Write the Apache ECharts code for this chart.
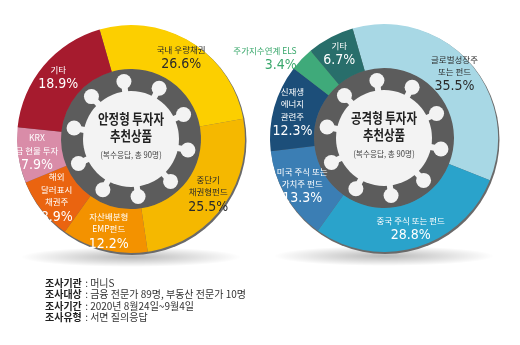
<!DOCTYPE html>
<html><head><meta charset="utf-8">
<script src="https://cdn.jsdelivr.net/npm/echarts@6/dist/echarts.min.js"></script>
<style>html,body{margin:0;padding:0;background:#fff}#c{width:520px;height:345px}</style>
</head><body><div id="c"></div>
<script>
// ---- data ----
const leftNames = ['국내 우량채권', '중단기\n채권형펀드', '자산배분형\nEMP펀드', '해외\n달러표시\n채권주', 'KRX\n금 현물 투자', '기타'];
const leftValues = [26.6, 25.5, 12.2, 8.9, 7.9, 18.9];
const rightNames = ['글로벌성장주\n또는 펀드', '중국 주식 또는 펀드', '미국 주식 또는\n가치주 펀드', '신재생\n에너지\n관련주', '주가지수연계 ELS', '기타'];
const rightValues = [35.5, 28.8, 13.3, 12.3, 3.4, 6.7];
const leftTitle = ['안정형 투자자', '추천상품'];
const rightTitle = ['공격형 투자자', '추천상품'];
const subTitle = '(복수응답, 총 90명)';
const noteKeys = ['조사기관', '조사대상', '조사기간', '조사유형'];
const noteVals = ['머니S', '금융 전문가 89명, 부동산 전문가 10명', '2020년 8월24일~9월4일', '서면 질의응답'];

// ---- styles ----
const leftColors = ['#FCCF00', '#F5B800', '#F39200', '#EA6410', '#D98CA8', '#A61B2E'];
const leftLabelColors = ['#2a2a2a', '#2a2a2a', '#fff', '#fff', '#fff', '#fff'];
const rightColors = ['#A8D8E5', '#2AA3CB', '#3B7EB4', '#1C4E79', '#3FAA7A', '#286E6B'];
const rightLabelColors = ['#2a2a2a', '#fff', '#fff', '#fff', '#3AA86C', '#fff'];
const FONT = '"Noto Sans CJK KR", "Noto Sans", sans-serif';
const NUMFONT = '"Liberation Sans Narrow", "DejaVu Sans Condensed", "Noto Sans", sans-serif';

const L = {cx: 131, cy: 139}, R = {cx: 384, cy: 138};
const OUTER = 114, INNER = 70;

function buildData(names, values, colors, labelColors, outsideIdx) {
  return names.map((n, i) => {
    const item = {name: n, value: values[i], itemStyle: {color: colors[i]},
      label: {rich: {n: {color: labelColors[i]}, p: {color: labelColors[i]}}}};
    if (i === outsideIdx) {
      item.label.position = 'outside'; item.label.color = labelColors[i];
      item.labelLine = {show: false, length: 0, length2: 0};
    }
    return item;
  });
}

function pieSeries(c, data) {
  return {
    type: 'pie', center: [c.cx, c.cy], radius: [INNER, OUTER], startAngle: 106,
    clockwise: true, animation: false, silent: true, z: 3,
    itemStyle: {borderWidth: 0},
    label: {position: 'inside', fontFamily: FONT,
      formatter: p => '{n|' + p.name.split('\n').join('}\n{n|') + '}\n{p|' + p.value.toFixed(1) + '%}',
      rich: {n: {fontSize: 8.5, lineHeight: 12.5, fontFamily: FONT},
             p: {fontSize: 14, lineHeight: 17, fontFamily: NUMFONT}}},
    labelLine: {show: false, length: 0, length2: 0},
    data: data
  };
}

function centerGraphics(c, title) {
  const els = [];
  els.push({type: 'circle', x: c.cx, y: c.cy + 118, scaleY: 0.09, z: 0,
    shape: {cx: 0, cy: 0, r: 110},
    style: {fill: {type: 'radial', x: 0.5, y: 0.5, r: 0.5,
      colorStops: [{offset: 0, color: 'rgba(0,0,0,0.28)'}, {offset: 1, color: 'rgba(0,0,0,0)'}]}}});
  els.push({type: 'circle', z: 0, shape: {cx: c.cx + 1, cy: c.cy + 1.5, r: OUTER + 0.5}, style: {fill: '#6a6a6a'}});
  els.push({type: 'circle', z: 1, shape: {cx: c.cx, cy: c.cy, r: INNER}, style: {fill: '#5c5c5c'}});
  const bodyR = 48, knobD = 58, knobR = 7.5;
  for (let k = 0; k < 10; k++) {
    const a = (-7 + 36 * k) * Math.PI / 180;
    const x = c.cx + knobD * Math.sin(a), y = c.cy - knobD * Math.cos(a);
    els.push({type: 'line', z: 2, shape: {x1: c.cx, y1: c.cy, x2: x, y2: y}, style: {stroke: '#f3f3f3', lineWidth: 6}});
    els.push({type: 'circle', z: 2, shape: {cx: x, cy: y, r: knobR}, style: {fill: '#f3f3f3'}});
  }
  els.push({type: 'circle', z: 2, shape: {cx: c.cx, cy: c.cy, r: bodyR}, style: {fill: '#f3f3f3'}});
  els.push({type: 'text', z: 2, x: c.cx, y: c.cy - 12, scaleX: 0.85, style: {text: title.join('\n'), fill: '#222',
    font: 'bold 13.5px ' + FONT, lineHeight: 17, align: 'center', verticalAlign: 'middle'}});
  els.push({type: 'text', z: 2, x: c.cx, y: c.cy + 16, scaleX: 0.9, style: {text: subTitle, fill: '#444',
    font: '8.5px ' + FONT, align: 'center', verticalAlign: 'middle'}});
  return els;
}

const notes = {type: 'text', z: 2, x: 45, y: 277, style: {
  text: noteKeys.map((k, i) => '{k|' + k + '} {v|: ' + noteVals[i] + '}').join('\n'),
  rich: {k: {font: 'bold 10px ' + FONT, fill: '#222', lineHeight: 11.5},
         v: {font: '10px ' + FONT, fill: '#333', lineHeight: 11.5}},
  lineHeight: 11.5, fill: '#333'}};

const chart = echarts.init(document.getElementById('c'), null, {renderer: 'canvas'});
chart.setOption({
  animation: false,
  series: [
    pieSeries(L, buildData(leftNames, leftValues, leftColors, leftLabelColors, -1)),
    pieSeries(R, buildData(rightNames, rightValues, rightColors, rightLabelColors, 4))
  ],
  graphic: {elements: centerGraphics(L, leftTitle).concat(centerGraphics(R, rightTitle), [notes])}
});
</script></body></html>
